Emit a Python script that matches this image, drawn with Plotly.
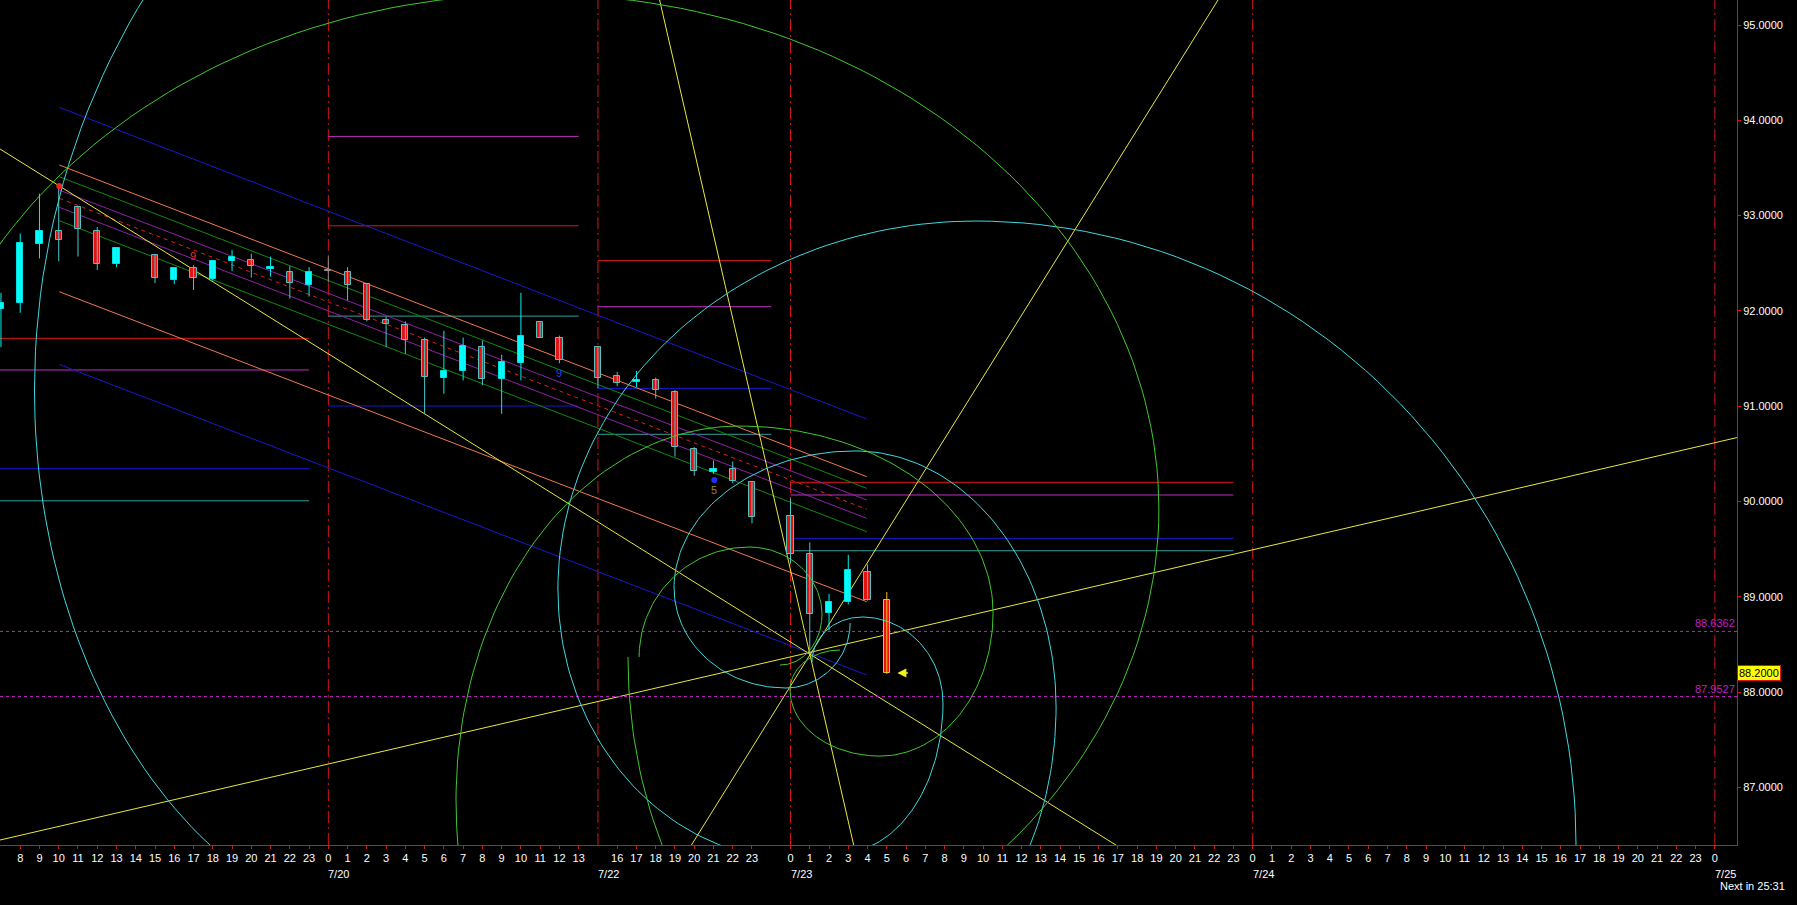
import math
import plotly.graph_objects as go

# ---------------- data ----------------
# x = bar slot on the compressed hourly axis (slot 0 = 7/20 00:00)
bar_slot = [-17, -16, -15, -14, -13, -12, -11, -9, -8, -7, -6, -5, -4, -3, -2, -1, 0, 1, 2, 3, 4, 5, 6, 7, 8, 9, 10, 11, 12,
            14, 15, 16, 17, 18, 19, 20, 21, 22, 24, 25, 26, 27, 28, 29]
bar_open = [92.02, 92.08, 92.70, 92.84, 93.09, 92.84, 92.49, 92.59, 92.32, 92.45, 92.33, 92.52, 92.53, 92.44, 92.41, 92.27,
            92.42, 92.41, 92.28, 91.90, 91.85, 91.69, 91.30, 91.37, 91.62, 91.28, 91.45, 91.88, 91.72,
            91.62, 91.32, 91.25, 91.27, 91.15, 90.55, 90.31, 90.34, 90.20, 89.85, 89.45, 88.83, 88.94, 89.26, 88.97]
bar_high = [92.19, 92.81, 93.23, 93.31, 93.10, 92.88, 92.67, 92.59, 92.46, 92.48, 92.53, 92.64, 92.60, 92.57, 92.47, 92.46,
            92.57, 92.46, 92.29, 91.94, 91.89, 91.72, 91.79, 91.72, 91.69, 91.54, 92.19, 91.88, 91.74,
            91.62, 91.36, 91.37, 91.30, 91.17, 90.57, 90.43, 90.42, 90.20, 90.03, 89.57, 89.03, 89.44, 89.34, 89.05]
bar_low = [91.62, 91.98, 92.55, 92.52, 92.57, 92.43, 92.46, 92.29, 92.28, 92.22, 92.32, 92.42, 92.35, 92.36, 92.13, 92.15,
           92.30, 92.11, 91.89, 91.62, 91.55, 90.92, 91.13, 91.27, 91.22, 90.92, 91.27, 91.72, 91.45,
           91.19, 91.21, 91.20, 91.08, 90.47, 90.27, 90.29, 90.19, 89.77, 89.35, 88.40, 88.65, 88.92, 88.96, 88.19]
bar_close = [92.08, 92.71, 92.84, 92.74, 92.86, 92.49, 92.66, 92.34, 92.45, 92.35, 92.52, 92.57, 92.47, 92.46, 92.29, 92.41,
             92.42, 92.27, 91.90, 91.86, 91.69, 91.31, 91.37, 91.63, 91.28, 91.46, 91.74, 91.72, 91.48,
             91.30, 91.24, 91.27, 91.17, 90.57, 90.32, 90.34, 90.21, 89.84, 89.45, 88.82, 88.95, 89.28, 88.97, 88.20]

last_price = 88.20

# x-axis hour labels (slot -> text)
tick_slots = list(range(-16, 14)) + list(range(15, 23)) + list(range(24, 73))
tick_hours = [str(h) for h in range(8, 24)] + [str(h) for h in range(0, 14)] + \
             [str(h) for h in range(16, 24)] + [str(h) for h in range(0, 24)] + [str(h) for h in range(0, 24)] + ["0"]
day_slots = [0, 14, 24, 48, 72]
day_labels = ["7/20", "7/22", "7/23", "7/24", "7/25"]

price_ticks = [87, 88, 89, 90, 91, 92, 93, 94, 95]

# magenta dashed reference levels
ref_levels = [88.6362, 87.9527]

# daily level segments: (start slot, end slot) and levels per segment
seg_ranges = [(-17.5, -1), (0, 13), (14, 23), (24, 47)]
seg_red = [91.712, 92.893, 92.527, 90.201]
seg_magenta = [91.380, 93.831, 92.044, 90.068]
seg_blue = [90.344, 91.002, 91.187, 89.613]
seg_teal = [90.007, 91.945, 90.705, 89.483]

# regression channel (parallel lines) from slot -14 to slot 28
chan_x = (-13.97, 27.96)
chan_names = ["blue_up", "orange_up", "green_up", "purple_up", "mid", "purple_lo", "green_lo", "orange_lo", "blue_lo"]
chan_start = [94.136, 93.531, 93.408, 93.268, 93.181, 93.087, 92.946, 92.201, 91.438]
chan_end = [90.865, 90.260, 90.138, 90.015, 89.918, 89.823, 89.683, 88.948, 88.179]

# yellow fan lines: two anchor points each (slot, price)
fan_a = [(-17.05, 93.699), (-17.05, 86.447), (17.27, 95.203), (18.83, 86.387)]
fan_b = [(40.96, 86.387), (73.1, 90.668), (27.29, 86.387), (46.2, 95.262)]

# spiral / circle objects as quarter arcs: (centre slot, centre price, x-radius slots, y-radius price, quadrant)
arcs_cyan = [
    (27.71, 88.315, 2.596, 0.472, "TL"), (27.71, 87.885, 4.206, 0.9025, "TR"),
    (26.57, 87.885, 5.349, 1.574, "BR"), (24.44, 89.071, 12.515, 2.833, "BL"),
    (33.63, 89.071, 21.71, 3.872, "TL"), (33.63, 86.395, 31.16, 6.548, "TR"),
    (23.72, 88.724, 3.375, 0.682, "BR"), (23.72, 89.092, 5.764, 1.049, "BL"),
    (27.35, 89.092, 9.399, 1.438, "TL"), (27.35, 87.843, 10.44, 2.687, "TR"),
    (27.35, 87.843, 10.44, 2.949, "BR"), (5.51, 91.170, 20.77, 5.772, "BL"),
    (21.09, 91.170, 36.35, 7.661, "TL"),
]
arcs_green = [
    (10.73, 89.921, 32.40, 5.404, "TL"), (10.73, 89.921, 32.40, 5.404, "TR"), (10.73, 89.921, 32.40, 5.404, "BR"),
    (34.15, 86.867, 27.52, 5.562, "BL"), (21.38, 86.867, 14.75, 3.925, "TL"),
    (21.38, 88.829, 13.14, 1.962, "TR"), (28.65, 88.829, 5.868, 1.501, "BR"),
    (28.65, 88.021, 4.674, 0.693, "BL"), (26.57, 88.021, 2.596, 0.42, "TL"),
    (30.62, 88.368, 15.06, 4.198, "BL"), (21.85, 88.368, 5.712, 1.154, "TL"),
    (21.85, 88.808, 3.791, 0.714, "TR"), (23.45, 88.808, 2.181, 0.525, "BR"),
]

# small text marks
marks = [(-7.03, 92.576, "9", "#E03030"), (11.98, 91.348, "9", "#2040FF"), (20.04, 90.12, "5", "#A08830")]
dot_marks = [(-13.97, 93.31, "#FF2020"), (20.04, 90.225, "#2030FF")]

# ---------------- figure ----------------
BG = "#000000"
X_RANGE = [-17.05, 73.15]
Y_RANGE = [86.395, 95.2624]
FONT = "Liberation Sans"

fig = go.Figure()

def add_line(x0, y0, x1, y1, color, dash="solid", width=1):
    fig.add_shape(type="line", xref="x", yref="y", x0=x0, y0=y0, x1=x1, y1=y1,
                  line=dict(color=color, width=width, dash=dash), layer="below")

# day separators
for s in day_slots:
    add_line(s, Y_RANGE[0], s, Y_RANGE[1], "#D01818", dash="12px,4px,2px,4px")

# daily level segments
for (a, b), r, m, bl, t in zip(seg_ranges, seg_red, seg_magenta, seg_blue, seg_teal):
    add_line(a, r, b, r, "#E01818")
    add_line(a, m, b, m, "#C030C0")
    add_line(a, bl, b, bl, "#1818D8")
    add_line(a, t, b, t, "#30A0A0")

# channel
chan_colors = {"blue_up": "#1818D0", "orange_up": "#F07850", "green_up": "#108A10", "purple_up": "#9020A8",
               "mid": "#E02020", "purple_lo": "#9020A8", "green_lo": "#108A10", "orange_lo": "#F07850",
               "blue_lo": "#1818D0"}
for nm, y0, y1 in zip(chan_names, chan_start, chan_end):
    add_line(chan_x[0], y0, chan_x[1], y1, chan_colors[nm], dash="4px,4px" if nm == "mid" else "solid")

# arcs (polylines from centre / radii / quadrant)
Q0 = {"TR": 0, "TL": 90, "BL": 180, "BR": 270}
def arc_xy(arcs):
    xs, ys = [], []
    for cx, cy, rx, ry, q in arcs:
        for k in range(61):
            t = math.radians(Q0[q] + 90 * k / 60)
            xs.append(cx + rx * math.cos(t))
            ys.append(cy + ry * math.sin(t))
        xs.append(None)
        ys.append(None)
    return xs, ys

for arcs, col in [(arcs_cyan, "#40D8E0"), (arcs_green, "#40C830")]:
    xs, ys = arc_xy(arcs)
    fig.add_trace(go.Scatter(x=xs, y=ys, mode="lines", line=dict(color=col, width=1), hoverinfo="skip",
                             showlegend=False))

# yellow fan
for (xa, ya), (xb, yb) in zip(fan_a, fan_b):
    dx, dy = xb - xa, yb - ya
    add_line(xa - 0.3 * dx, ya - 0.3 * dy, xb + 0.3 * dx, yb + 0.3 * dy, "#E8E840")

# reference dashed levels
for lv in ref_levels:
    add_line(X_RANGE[0], lv, X_RANGE[1], lv, "#C020C0", dash="3px,3px")
    fig.add_annotation(xref="paper", yref="y", x=1, y=lv, text=f"{lv:.4f}", showarrow=False,
                       xanchor="right", yanchor="bottom", font=dict(family=FONT, size=11, color="#C020C0"))

# candles: wicks
def wick_xy(sel):
    xs, ys = [], []
    for i in sel:
        xs += [bar_slot[i], bar_slot[i], None]
        ys += [bar_low[i], bar_high[i], None]
    return xs, ys

n = len(bar_slot)
up = [i for i in range(n) if bar_close[i] > bar_open[i]]
dn = [i for i in range(n - 1) if bar_close[i] < bar_open[i]]
dj = [i for i in range(n) if bar_close[i] == bar_open[i]]
last = [n - 1]

for sel, col in [(up, "#00F0F0"), (dn, "#48C8C8"), (dj, "#909090"), (last, "#E8C020")]:
    xs, ys = wick_xy(sel)
    fig.add_trace(go.Scatter(x=xs, y=ys, mode="lines", line=dict(color=col, width=1), hoverinfo="skip",
                             showlegend=False))

def body(sel, fill, edge):
    fig.add_trace(go.Bar(x=[bar_slot[i] for i in sel],
                         base=[min(bar_open[i], bar_close[i]) for i in sel],
                         y=[max(abs(bar_close[i] - bar_open[i]), 0.012) for i in sel],
                         width=0.32, marker=dict(color=fill, line=dict(color=edge, width=1)),
                         showlegend=False, hoverinfo="skip"))

body(up, "#00FFFF", "#00E0E0")
body(dn, "#E81010", "#58C0C0")
body(dj, "#909090", "#909090")
body(last, "#F01010", "#F0C020")

# text marks
for x, y, t, c in marks:
    fig.add_annotation(x=x, y=y, text=t, showarrow=False, font=dict(family=FONT, size=11, color=c))
fig.add_trace(go.Scatter(x=[d[0] for d in dot_marks], y=[d[1] for d in dot_marks], mode="markers",
                         marker=dict(color=[d[2] for d in dot_marks], size=6), showlegend=False, hoverinfo="skip"))

# yellow arrow at current price
fig.add_annotation(x=bar_slot[-1] + 0.55, y=last_price, ax=12, ay=0, text="", showarrow=True,
                   arrowhead=2, arrowsize=1.2, arrowwidth=1.5, arrowcolor="#F0F020")

# last price tag on axis
fig.add_annotation(xref="paper", yref="y", x=1.0, y=last_price, text=f"{last_price:.4f}", showarrow=False,
                   xanchor="left", yanchor="middle", bgcolor="#FFFF00", bordercolor="#E01010", borderwidth=1,
                   borderpad=1, font=dict(family=FONT, size=11, color="#000000"))

# date labels
for s, t in zip(day_slots, day_labels):
    fig.add_annotation(x=s, xref="x", yref="paper", y=-0.034, text=t, showarrow=False, xanchor="left",
                       yanchor="middle", xshift=-2, font=dict(family=FONT, size=11, color="#FFFFFF"))

fig.add_annotation(xref="paper", yref="paper", x=1.0285, y=-0.048, text="Next in 25:31", showarrow=False,
                   xanchor="right", yanchor="middle", font=dict(family=FONT, size=11, color="#FFFFFF"))

fig.update_layout(
    width=1797, height=905, margin=dict(l=0, r=60, t=0, b=60, autoexpand=False),
    paper_bgcolor=BG, plot_bgcolor=BG, barmode="overlay", bargap=0, showlegend=False,
    xaxis=dict(range=X_RANGE, showgrid=False, zeroline=False, showline=True, linecolor="#D01818", linewidth=1,
               tickmode="array", tickvals=tick_slots, ticktext=tick_hours, ticks="outside", ticklen=3,
               tickcolor="#D01818", tickfont=dict(family=FONT, size=11, color="#FFFFFF"), fixedrange=True,
               automargin=False),
    yaxis=dict(range=Y_RANGE, side="right", showgrid=False, zeroline=False, showline=True, linecolor="#D01818",
               linewidth=1, tickmode="array", tickvals=price_ticks, ticktext=[f"{p:.4f}" for p in price_ticks],
               ticks="outside", ticklen=3, tickcolor="#D01818",
               tickfont=dict(family=FONT, size=11, color="#FFFFFF"), fixedrange=True, automargin=False),
)

fig.write_html("out.html", config={"displayModeBar": False},
               post_script="document.body.style.margin='0px';document.body.style.background='#000';")
